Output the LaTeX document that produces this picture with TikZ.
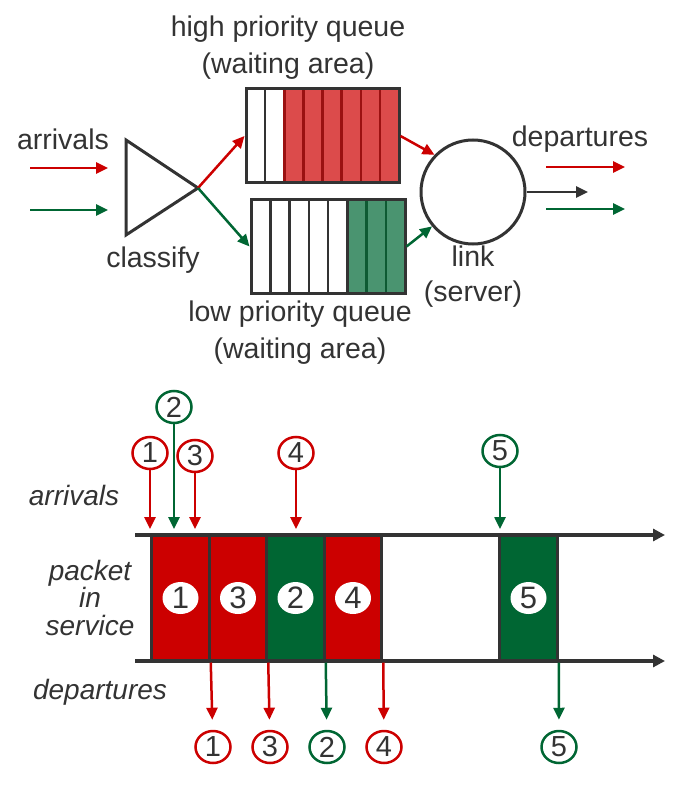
\documentclass[tikz,border=0pt]{standalone}
\usepackage{fontspec}
\setmainfont{Liberation Sans}
\usepackage{xcolor}
\usetikzlibrary{shapes.geometric,arrows.meta}
\definecolor{ink}{HTML}{333333}
\definecolor{pktred}{HTML}{CC0000}
\definecolor{pktgreen}{HTML}{006633}
\definecolor{qred}{HTML}{DC4B4B}
\definecolor{qredline}{HTML}{9B1111}
\definecolor{qgreen}{HTML}{4A9470}
\definecolor{qgreenline}{HTML}{0E5A33}
\tikzstyle{lbl}=[text=ink, font=\fontsize{28.5}{37}\selectfont, align=center, inner sep=0pt]
\tikzstyle{ilbl}=[text=ink, font=\fontsize{28}{27.5}\selectfont\itshape, align=center, inner sep=0pt]
\tikzstyle{redarrow}=[pktred, line width=2.5pt, -{Triangle[length=12pt,width=11pt]}]
\tikzstyle{greenarrow}=[pktgreen, line width=2.5pt, -{Triangle[length=12pt,width=11pt]}]
\tikzstyle{inkarrow}=[ink, line width=2.5pt, -{Triangle[length=12pt,width=11pt]}]
\tikzstyle{queue}=[draw=ink, line width=3pt, inner sep=0pt]
\tikzstyle{cellgray}=[ink, line width=2.5pt]
\tikzstyle{cellred}=[qredline, line width=2.5pt]
\tikzstyle{cellgreen}=[qgreenline, line width=2.5pt]
\tikzstyle{pkt}=[draw=ink, line width=3pt, minimum width=57.5pt, minimum height=126pt, inner sep=0pt]
\tikzstyle{pnum}=[ellipse, fill=white, minimum width=36pt, minimum height=32pt, inner sep=0pt, text=ink, font=\fontsize{31}{31}\selectfont]
\tikzstyle{redcirc}=[ellipse, draw=pktred, line width=2.5pt, minimum width=35pt, minimum height=32pt, inner sep=0pt, text=ink, font=\fontsize{29}{29}\selectfont]
\tikzstyle{greencirc}=[redcirc, draw=pktgreen]
\tikzstyle{timeline}=[ink, line width=4pt, -{Triangle[length=12pt,width=12pt]}]

\begin{document}
\begin{tikzpicture}[x=1pt,y=-1pt]
  \useasboundingbox (0,0) rectangle (678,786);
  % classifier and queues
  \node[lbl] (hqlabel) at (288,48) {high priority queue\\(waiting area)};
  \node[lbl] (inlabel) at (63,139) {arrivals};
  \coordinate (inR0) at (30,168);
  \coordinate (inR1) at (108,168);
  \coordinate (inG0) at (30,210);
  \coordinate (inG1) at (108,210);
  \draw [redarrow] (inR0) -- (inR1);
  \draw [greenarrow] (inG0) -- (inG1);
  \coordinate (cls) at (198,188);
  \draw [ink, line width=3pt] (126,140) -- (126,235) -- (cls) -- cycle;
  \node[lbl] (clslabel) at (153,260) {classify};
  % high priority queue
  \fill [qred] (284.25,89) rectangle (399,183);
  \foreach \i in {1} \draw [cellgray] ({246+19.125*\i},89) -- ++(0,94);
  \foreach \i in {2,...,7} \draw [cellred] ({246+19.125*\i},89) -- ++(0,94);
  \node[queue, minimum width=153pt, minimum height=94pt] (hq) at (322.5,136) {};
  % low priority queue
  \fill [qgreen] (347.25,200) rectangle (405,293);
  \foreach \i in {1,...,5} \draw [cellgray] ({251+19.25*\i},200) -- ++(0,93);
  \foreach \i in {6,7} \draw [cellgreen] ({251+19.25*\i},200) -- ++(0,93);
  \node[queue, minimum width=154pt, minimum height=93pt] (lq) at (328,246.5) {};
  \node[lbl] (lqlabel) at (300,333) {low priority queue\\(waiting area)};
  \draw [redarrow] (cls) -- (hq.west);
  \draw [greenarrow] (cls) -- (lq.west);
  % server
  \node[circle, draw=ink, line width=3pt, minimum size=104pt] (link) at (473,192) {};
  \node[lbl, font=\fontsize{28.5}{35}\selectfont] (linklabel) at (473,277) {link\\(server)};
  \draw [redarrow] (hq.east) -- (link.136);
  \draw [greenarrow] (lq.east) -- (link.220);
  \coordinate (outK) at (588,192);
  \draw [inkarrow] (link.east) -- (outK);
  \node[lbl] (outlabel) at (580,139) {departures};
  \coordinate (outR0) at (546,167);
  \coordinate (outR1) at (625,167);
  \coordinate (outG0) at (546,209);
  \coordinate (outG1) at (625,209);
  \draw [redarrow] (outR0) -- (outR1);
  \draw [greenarrow] (outG0) -- (outG1);

  % timing diagram
  \node[ilbl] (tarr) at (74,495) {arrivals};
  \node[ilbl] (tsrv) at (90,597.5) {packet\\in\\service};
  \node[ilbl] (tdep) at (100,692) {departures};
  \node[pkt, fill=pktred] (p1) at (180.5,598) {};
  \node[pkt, fill=pktred] (p3) at (238,598) {};
  \node[pkt, fill=pktgreen] (p2) at (295.5,598) {};
  \node[pkt, fill=pktred] (p4) at (353,598) {};
  \node[pkt, fill=pktgreen] (p5) at (528.5,598) {};
  \node[pnum] at (p1) {1};
  \node[pnum] at (p3) {3};
  \node[pnum] at (p2) {2};
  \node[pnum] at (p4) {4};
  \node[pnum] at (p5) {5};
  \coordinate (top0) at (135,535);
  \coordinate (top1) at (665,535);
  \coordinate (bot0) at (135,661);
  \coordinate (bot1) at (665,661);
  \draw [timeline] (top0) -- (top1);
  \draw [timeline] (bot0) -- (bot1);
  % arriving packets
  \node[redcirc] (a1) at (150,453) {1};
  \node[greencirc] (a2) at (174,407) {2};
  \node[redcirc] (a3) at (195,456) {3};
  \node[redcirc] (a4) at (296,453) {4};
  \node[greencirc] (a5) at (500,451) {5};
  \draw [redarrow, shorten >=6pt] (a1) -- (a1 |- top0);
  \draw [greenarrow, shorten >=6pt] (a2) -- (a2 |- top0);
  \draw [redarrow, shorten >=6pt] (a3) -- (a3 |- top0);
  \draw [redarrow, shorten >=6pt] (a4) -- (a4 |- top0);
  \draw [greenarrow, shorten >=6pt] (a5) -- (a5 |- top0);
  % departing packets
  \node[redcirc] (d1) at (213,747) {1};
  \node[redcirc] (d3) at (270,747) {3};
  \node[greencirc] (d2) at (327,747) {2};
  \node[redcirc] (d4) at (384,747) {4};
  \node[greencirc] (d5) at (559,747) {5};
  \draw [redarrow, shorten >=10pt] (p1.south east) -- (d1);
  \draw [redarrow, shorten >=10pt] (p3.south east) -- (d3);
  \draw [greenarrow, shorten >=10pt] (p2.south east) -- (d2);
  \draw [redarrow, shorten >=10pt] (p4.south east) -- (d4);
  \draw [greenarrow, shorten >=10pt] (p5.south east) -- (d5);
\end{tikzpicture}
\end{document}
